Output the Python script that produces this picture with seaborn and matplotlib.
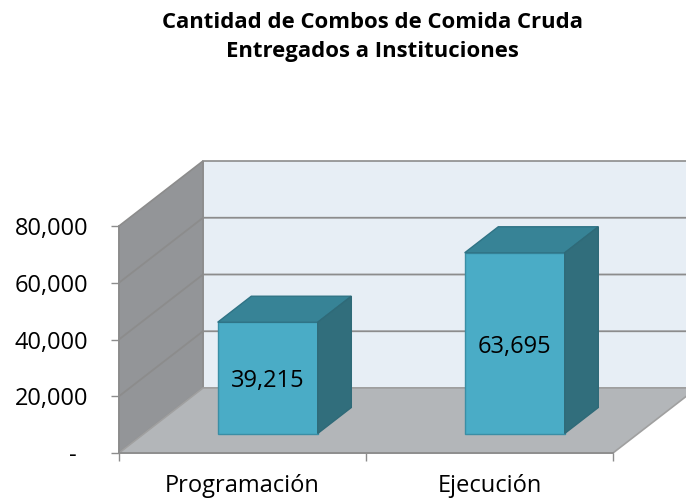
import matplotlib
matplotlib.use("Agg")
import matplotlib.pyplot as plt
import seaborn as sns
import pandas as pd
from matplotlib.patches import Polygon

# datos del grafico
categorias = ["Programación", "Ejecución"]
valores = [39215, 63695]
ticks_y = [0, 20000, 40000, 60000, 80000]
etiquetas_y = ["-  ", "20,000", "40,000", "60,000", "80,000"]
etiquetas_barras = ["39,215", "63,695"]
titulo = "Cantidad de Combos de Comida Cruda\nEntregados a Instituciones"

sns.set_theme(style="white")
plt.rcParams['font.family'] = ['Open Sans', 'DejaVu Sans']
plt.rcParams['text.color'] = 'black'

df = pd.DataFrame({"categoria": categorias, "valor": valores})

fig = plt.figure(figsize=(6.86, 4.99), dpi=100)
ax = fig.add_axes([119/686, 46/499, 494/686, 296/499])

# profundidad del efecto 3D (en unidades de datos)
DX = 84 / 247
DY = 65 * 80000 / 227
fondo = 0.3   # posicion de la barra dentro del piso
prof = 0.4    # profundidad de la barra

gris = "#8c8c8c"

# barras primero (seaborn)
sns.barplot(data=df, x="categoria", y="valor", width=0.405, color="#4aacc6",
            saturation=1, edgecolor="#3a8ea5", linewidth=1, ax=ax, zorder=2)
barras = list(ax.containers[0])

# pared del fondo, pared lateral y piso
x0, x1 = -0.5, 1.5
ymax = 80000
ax.add_patch(Polygon([(x0+DX, DY), (x1+DX, DY), (x1+DX, ymax+DY), (x0+DX, ymax+DY)],
                     closed=True, facecolor="#e7eef5", edgecolor=gris, lw=1.2, zorder=0.5, clip_on=False))
ax.add_patch(Polygon([(x0, 0), (x0+DX, DY), (x0+DX, ymax+DY), (x0, ymax)],
                     closed=True, facecolor="#939598", edgecolor=gris, lw=1.2, zorder=0.6, clip_on=False))
ax.add_patch(Polygon([(x0, 0), (x1, 0), (x1+DX, DY), (x0+DX, DY)],
                     closed=True, facecolor="#b3b6b9", edgecolor="#a0a0a0", lw=1.2, zorder=0.7, clip_on=False))
for v in ticks_y[1:-1]:
    ax.plot([x0, x0+DX, x1+DX], [v, v+DY, v+DY], color=gris, lw=1.3, zorder=0.65, clip_on=False)

for p, txt in zip(barras, etiquetas_barras):
    p.set_x(p.get_x() + fondo*DX)
    p.set_y(fondo*DY)
    bx, by, w, h = p.get_x(), p.get_y(), p.get_width(), p.get_height()
    dx, dy = prof*DX, prof*DY
    ax.add_patch(Polygon([(bx, by+h), (bx+w, by+h), (bx+w+dx, by+h+dy), (bx+dx, by+h+dy)],
                         closed=True, facecolor="#378396", edgecolor="#2f7385", lw=1, zorder=2))
    ax.add_patch(Polygon([(bx+w, by), (bx+w+dx, by+dy), (bx+w+dx, by+h+dy), (bx+w, by+h)],
                         closed=True, facecolor="#316e7c", edgecolor="#2f6a78", lw=1, zorder=2))
    ax.text(bx + w/2, by + h/2 - 1200, txt, ha="center", va="center", fontsize=17,
            color="black", zorder=3)

ax.set_xlim(x0, x1)
ax.set_ylim(0, 296 * 80000 / 227)
ax.set_facecolor("none")
ax.set_xlabel("")
ax.set_ylabel("")

for s in ["top", "right"]:
    ax.spines[s].set_visible(False)
ax.spines["left"].set_bounds(0, 80000)
ax.spines["left"].set_color(gris)
ax.spines["bottom"].set_color(gris)
ax.spines["left"].set_zorder(1)
ax.spines["bottom"].set_zorder(1)

ax.set_yticks(ticks_y)
ax.set_yticklabels(etiquetas_y)
ax.set_xticks([0, 1])
ax.set_xticklabels(categorias)
ax.set_xticks([-0.5, 0.5, 1.5], minor=True)
ax.tick_params(axis="y", left=True, length=6, width=1, color=gris, pad=16,
               labelsize=17, labelcolor="black")
ax.tick_params(axis="x", which="major", bottom=False, length=0, pad=15,
               labelsize=17, labelcolor="black")
ax.tick_params(axis="x", which="minor", bottom=True, length=6, width=1, color=gris)

fig.text(372/686, 1 - 37/499, titulo, ha="center", va="center", fontsize=15.9,
         fontweight="bold", linespacing=1.45, color="black")

fig.savefig("out.png", dpi=100)
